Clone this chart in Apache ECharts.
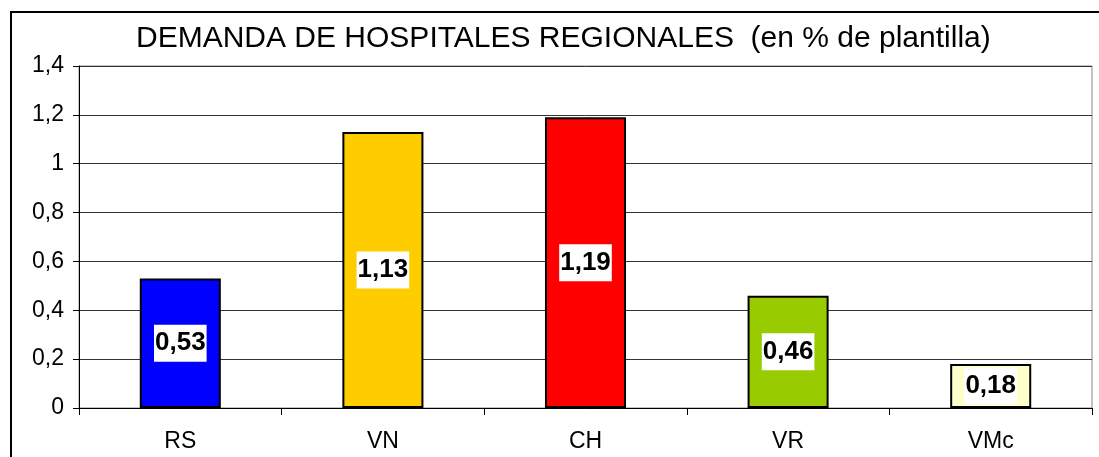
<!DOCTYPE html>
<html>
<head>
<meta charset="utf-8">
<script src="https://cdn.jsdelivr.net/npm/echarts@6/dist/echarts.min.js"></script>
<style>
  html, body { margin: 0; padding: 0; background: #fff; }
  #main { width: 1099px; height: 457px; }
</style>
</head>
<body>
<div id="main"></div>
<script>
// datos del gráfico
var categorias = ['RS', 'VN', 'CH', 'VR', 'VMc'];
var valores = [0.53, 1.13, 1.19, 0.46, 0.18];
var colores = ['#0000ff', '#ffcc00', '#ff0000', '#99cc00', '#ffffcc'];
var titulo = 'DEMANDA DE HOSPITALES REGIONALES  (en % de plantilla)';

function coma(v) {
    return String(Number(v.toFixed(2))).replace('.', ',');
}

var myChart = echarts.init(document.getElementById('main'));

var option = {
    animation: false,
    backgroundColor: '#fff',
    title: {
        text: titulo,
        left: 136,
        top: 24,
        padding: 0,
        textStyle: {
            fontFamily: 'Liberation Sans, Arial',
            fontWeight: 'normal',
            fontSize: 30,
            color: '#000'
        }
    },
    graphic: [{
        type: 'rect',
        shape: { x: 11, y: 12, width: 1100, height: 460 },
        style: { fill: 'none', stroke: '#000', lineWidth: 2 },
        silent: true
    }],
    grid: {
        left: 79,
        top: 66,
        right: 7,
        bottom: 49,
        show: true,
        borderColor: '#888',
        borderWidth: 1,
        backgroundColor: '#fff'
    },
    xAxis: {
        type: 'category',
        data: categorias,
        axisLine: { lineStyle: { color: '#000', width: 1 } },
        axisTick: { show: true, alignWithLabel: false, length: 7, lineStyle: { color: '#000' } },
        axisLabel: {
            margin: 22,
            fontFamily: 'Liberation Sans, Arial',
            fontSize: 23,
            color: '#000'
        }
    },
    yAxis: {
        type: 'value',
        min: 0,
        max: 1.4,
        interval: 0.2,
        axisLine: { show: true, lineStyle: { color: '#000', width: 1 } },
        axisTick: { show: true, length: 6, lineStyle: { color: '#000' } },
        splitLine: { lineStyle: { color: '#333', width: 1 } },
        axisLabel: {
            margin: 15,
            fontFamily: 'Liberation Sans, Arial',
            fontSize: 23,
            color: '#000',
            formatter: function (v) { return coma(v); }
        }
    },
    series: [{
        type: 'bar',
        barWidth: '40%',
        data: valores.map(function (v, i) {
            return { value: v, itemStyle: { color: colores[i] } };
        }),
        itemStyle: { borderColor: '#000', borderWidth: 2 },
        label: {
            show: true,
            position: 'inside',
            formatter: function (p) { return coma(p.value); },
            fontFamily: 'Liberation Sans, Arial',
            fontWeight: 'bold',
            fontSize: 26,
            color: '#000',
            backgroundColor: '#fff',
            padding: [6, 1, 5, 1]
        }
    }]
};

myChart.setOption(option);
</script>
</body>
</html>
